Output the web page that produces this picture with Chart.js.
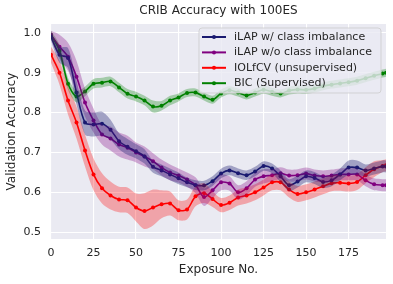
<!DOCTYPE html>
<html>
<head>
<meta charset="utf-8">
<title>CRIB Accuracy with 100ES</title>
<script src="https://cdn.jsdelivr.net/npm/chart.js"></script>
<style>
  html, body { margin: 0; padding: 0; background: #fff; }
</style>
</head>
<body>
<canvas id="accChart" width="393" height="284"></canvas>
<script>
// exposure numbers (x)
const exposures = [0,5,10,15,20,25,30,35,40,45,50,55,60,65,70,75,80,85,90,95,100,105,110,115,120,125,130,135,140,145,150,155,160,165,170,175,180,185,190,195,197];

// mean validation accuracy
const ilapImb = [0.99,0.945,0.937,0.85,0.775,0.77,0.772,0.757,0.728,0.714,0.703,0.69,0.664,0.655,0.645,0.635,0.625,0.618,0.617,0.628,0.647,0.655,0.648,0.643,0.652,0.666,0.66,0.64,0.618,0.627,0.64,0.636,0.626,0.63,0.645,0.662,0.662,0.655,0.66,0.665,0.665];
const ilapNoImb = [0.995,0.965,0.94,0.89,0.825,0.78,0.745,0.735,0.72,0.712,0.7,0.69,0.678,0.662,0.65,0.642,0.632,0.618,0.588,0.605,0.625,0.622,0.6,0.61,0.632,0.64,0.643,0.648,0.642,0.643,0.647,0.642,0.64,0.642,0.645,0.645,0.645,0.63,0.62,0.618,0.618];
const iolfcv = [0.945,0.9,0.83,0.775,0.705,0.645,0.61,0.592,0.582,0.58,0.562,0.553,0.562,0.57,0.572,0.555,0.557,0.59,0.598,0.583,0.568,0.574,0.587,0.592,0.6,0.612,0.625,0.625,0.607,0.596,0.6,0.607,0.615,0.623,0.624,0.622,0.626,0.643,0.658,0.666,0.668];
const bic = [0.995,0.955,0.872,0.84,0.853,0.872,0.875,0.878,0.863,0.847,0.84,0.83,0.815,0.817,0.83,0.838,0.849,0.85,0.84,0.832,0.848,0.856,0.85,0.843,0.85,0.857,0.852,0.848,0.855,0.858,0.857,0.86,0.866,0.87,0.873,0.876,0.88,0.886,0.892,0.898,0.9];

// half width of the shaded bands
const ilapImbSpread = [0.01,0.02,0.025,0.03,0.03,0.03,0.03,0.025,0.02,0.02,0.018,0.018,0.015,0.015,0.015,0.015,0.012,0.012,0.012,0.012,0.012,0.012,0.012,0.012,0.012,0.012,0.012,0.015,0.015,0.015,0.015,0.015,0.015,0.015,0.015,0.018,0.018,0.015,0.015,0.015,0.015];
const ilapNoImbSpread = [0.01,0.03,0.035,0.04,0.035,0.03,0.025,0.03,0.03,0.03,0.025,0.025,0.02,0.02,0.02,0.018,0.018,0.02,0.022,0.02,0.02,0.018,0.018,0.018,0.018,0.018,0.015,0.015,0.015,0.015,0.015,0.015,0.015,0.015,0.015,0.015,0.015,0.015,0.015,0.015,0.015];
const iolfcvSpread = [0.02,0.03,0.035,0.04,0.04,0.04,0.038,0.035,0.032,0.032,0.035,0.045,0.045,0.035,0.03,0.025,0.025,0.025,0.025,0.02,0.018,0.018,0.02,0.02,0.02,0.02,0.02,0.02,0.02,0.02,0.02,0.02,0.02,0.02,0.02,0.02,0.02,0.02,0.02,0.015,0.015];
const bicSpread = [0.01,0.015,0.015,0.015,0.012,0.012,0.012,0.012,0.012,0.012,0.012,0.012,0.015,0.012,0.012,0.01,0.01,0.01,0.01,0.01,0.01,0.01,0.01,0.01,0.01,0.01,0.01,0.01,0.01,0.01,0.01,0.01,0.01,0.01,0.01,0.01,0.01,0.01,0.01,0.01,0.01];

const seriesNames = ['iLAP w/ class imbalance', 'iLAP w/o class imbalance', 'IOLfCV (unsupervised)', 'BIC (Supervised)'];
const xTicks = [0, 25, 50, 75, 100, 125, 150, 175];
const yTicks = [0.5, 0.6, 0.7, 0.8, 0.9, 1.0];

const FONT = '"DejaVu Sans", sans-serif';
const TEXT = '#262626';

const series = [
  { name: seriesNames[0], mean: ilapImb, spread: ilapImbSpread, color: '#191970', band: 'rgba(25,25,112,0.35)' },
  { name: seriesNames[1], mean: ilapNoImb, spread: ilapNoImbSpread, color: '#800080', band: 'rgba(128,0,128,0.3)' },
  { name: seriesNames[2], mean: iolfcv, spread: iolfcvSpread, color: '#ff0000', band: 'rgba(255,0,0,0.3)' },
  { name: seriesNames[3], mean: bic, spread: bicSpread, color: '#008000', band: 'rgba(0,128,0,0.3)' }
];

const pts = (ys) => exposures.map((x, i) => ({ x: x, y: ys[i] }));

const datasets = [];
// bands first, so the lines sit on top
series.forEach(s => {
  datasets.push({
    data: pts(s.mean.map((m, i) => m - s.spread[i])),
    borderWidth: 0, pointRadius: 0, fill: false, tension: 0.3
  });
  datasets.push({
    data: pts(s.mean.map((m, i) => m + s.spread[i])),
    borderWidth: 0, pointRadius: 0, fill: '-1', backgroundColor: s.band, tension: 0.3
  });
});
series.forEach(s => {
  datasets.push({
    label: s.name,
    data: pts(s.mean),
    borderColor: s.color,
    backgroundColor: s.color,
    borderWidth: 1.6,
    pointRadius: 2,
    pointBorderWidth: 0,
    pointBackgroundColor: s.color,
    fill: false,
    tension: 0.3
  });
});

// grey plot background + title over the axes
const backdrop = {
  id: 'backdrop',
  beforeDraw(chart) {
    const { ctx, chartArea: a } = chart;
    ctx.save();
    ctx.fillStyle = '#EAEAF2';
    ctx.fillRect(a.left, a.top, a.right - a.left, a.bottom - a.top);
    ctx.fillStyle = TEXT;
    ctx.font = '12px ' + FONT;
    ctx.textAlign = 'center';
    ctx.textBaseline = 'middle';
    ctx.fillText('CRIB Accuracy with 100ES', (a.left + a.right) / 2, 11);
    ctx.restore();
  }
};

// legend box in the upper right, like matplotlib's
const boxLegend = {
  id: 'boxLegend',
  afterDatasetsDraw(chart) {
    const ctx = chart.ctx;
    const x = 199, y = 28, w = 182, h = 65, r = 3;
    ctx.save();
    ctx.beginPath();
    ctx.moveTo(x + r, y);
    ctx.arcTo(x + w, y, x + w, y + h, r);
    ctx.arcTo(x + w, y + h, x, y + h, r);
    ctx.arcTo(x, y + h, x, y, r);
    ctx.arcTo(x, y, x + w, y, r);
    ctx.closePath();
    ctx.fillStyle = 'rgba(234,234,242,0.8)';
    ctx.fill();
    ctx.strokeStyle = 'rgba(204,204,204,0.8)';
    ctx.lineWidth = 1;
    ctx.stroke();
    series.forEach((s, i) => {
      const ry = 37 + i * 15.4;
      ctx.strokeStyle = s.color;
      ctx.lineWidth = 2;
      ctx.beginPath();
      ctx.moveTo(202, ry);
      ctx.lineTo(226, ry);
      ctx.stroke();
      ctx.fillStyle = s.color;
      ctx.beginPath();
      ctx.arc(214, ry, 2, 0, Math.PI * 2);
      ctx.fill();
      ctx.fillStyle = TEXT;
      ctx.font = '11px ' + FONT;
      ctx.textAlign = 'left';
      ctx.textBaseline = 'middle';
      ctx.fillText(s.name, 234, ry);
    });
    ctx.restore();
  }
};

new Chart(document.getElementById('accChart'), {
  type: 'line',
  data: { datasets: datasets },
  options: {
    responsive: false,
    animation: false,
    devicePixelRatio: 1,
    layout: { padding: { top: 24, right: 7, bottom: 0, left: 0 } },
    plugins: {
      legend: { display: false },
      tooltip: { enabled: false },
      title: { display: false }
    },
    scales: {
      x: {
        type: 'linear',
        min: 0,
        max: 197,
        afterBuildTicks: (scale) => { scale.ticks = xTicks.map(v => ({ value: v })); },
        afterFit: (scale) => { scale.height = 45; },
        grid: { color: '#ffffff', lineWidth: 1.1, drawTicks: false },
        border: { display: false },
        ticks: { color: TEXT, font: { family: FONT, size: 11 }, padding: 8, maxRotation: 0 },
        title: { display: true, text: 'Exposure No.', color: TEXT, font: { family: FONT, size: 12 }, padding: { top: 0, bottom: 7 } }
      },
      y: {
        min: 0.483,
        max: 1.022,
        afterBuildTicks: (scale) => { scale.ticks = yTicks.map(v => ({ value: v })); },
        afterFit: (scale) => { scale.width = 51; },
        grid: { color: '#ffffff', lineWidth: 1.1, drawTicks: false },
        border: { display: false },
        ticks: { color: TEXT, font: { family: FONT, size: 11 }, padding: 10, callback: (v) => v.toFixed(1) },
        title: { display: true, text: 'Validation Accuracy', color: TEXT, font: { family: FONT, size: 12 }, padding: { top: 5, bottom: 0 } }
      }
    }
  },
  plugins: [backdrop, boxLegend]
});
</script>
</body>
</html>
